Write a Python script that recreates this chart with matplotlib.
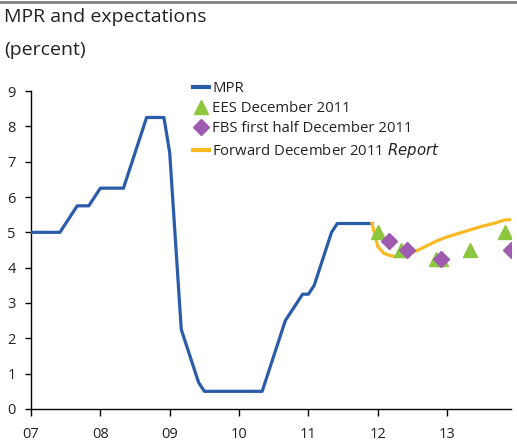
import matplotlib
matplotlib.use("Agg")
import matplotlib.pyplot as plt
from matplotlib.lines import Line2D

plt.rcParams['font.family'] = ['Open Sans', 'DejaVu Sans']

# month index: 0 = Jan 2007
mpr_months = list(range(0, 60))
mpr_values = [5.0, 5.0, 5.0, 5.0, 5.0, 5.0, 5.25, 5.5, 5.75, 5.75, 5.75, 6.0,
              6.25, 6.25, 6.25, 6.25, 6.25, 6.75, 7.25, 7.75, 8.25, 8.25, 8.25, 8.25,
              7.25, 4.75, 2.25, 1.75, 1.25, 0.75, 0.5, 0.5, 0.5, 0.5, 0.5, 0.5,
              0.5, 0.5, 0.5, 0.5, 0.5, 1.0, 1.5, 2.0, 2.5, 2.75, 3.0, 3.25,
              3.25, 3.5, 4.0, 4.5, 5.0, 5.25, 5.25, 5.25, 5.25, 5.25, 5.25, 5.25]

fwd_months = list(range(59, 84))
fwd_values = [5.25, 4.6, 4.41, 4.35, 4.31, 4.32, 4.37, 4.43, 4.5, 4.58, 4.66, 4.74,
              4.81, 4.87, 4.92, 4.97, 5.02, 5.07, 5.12, 5.17, 5.21, 5.25, 5.3, 5.35, 5.36]

ees_months = [60, 64, 70, 71, 76, 82]
ees_values = [5.0, 4.5, 4.25, 4.25, 4.5, 5.0]

fbs_months = [62, 65, 71, 83]
fbs_values = [4.75, 4.5, 4.25, 4.5]

tick_months = [0, 12, 24, 36, 48, 60, 72]
tick_labels = ['07', '08', '09', '10', '11', '12', '13']

title = 'MPR and expectations'
subtitle = '(percent)'

c_mpr = '#2A5CAA'
c_ees = '#8DC63F'
c_fbs = '#9E5BB0'
c_fwd = '#FBB923'

fig = plt.figure(figsize=(5.17, 4.42), dpi=100)
ax = fig.add_axes([31/517, 1 - 409/442, (510.7 - 31)/517, (409 - 91)/442])

ax.plot(mpr_months, mpr_values, color=c_mpr, lw=2.3, solid_joinstyle='round', zorder=3)
ax.plot(fwd_months, fwd_values, color=c_fwd, lw=2.3, solid_joinstyle='round', zorder=3)
ax.plot(ees_months, ees_values, ls='none', marker='^', ms=10, color=c_ees, mec=c_ees, zorder=4)
ax.plot(fbs_months, fbs_values, ls='none', marker='D', ms=8, color=c_fbs, mec=c_fbs, zorder=5)

ax.set_xlim(0, 83)
ax.set_ylim(0, 9)
ax.set_xticks(tick_months)
ax.set_xticklabels(tick_labels)
ax.set_yticks(range(0, 10))
for s in ['top', 'right']:
    ax.spines[s].set_visible(False)
for s in ['left', 'bottom']:
    ax.spines[s].set_linewidth(1.0)
    ax.spines[s].set_color('black')
ax.tick_params(axis='x', direction='out', length=5, width=1, pad=8, labelsize=10.5, colors='black', labelcolor='#222222')
ax.tick_params(axis='y', direction='out', length=4, width=1, pad=7, labelsize=10.5, colors='black', labelcolor='#222222')

handles = [
    Line2D([], [], color=c_mpr, lw=3),
    Line2D([], [], ls='none', marker='^', ms=10, color=c_ees),
    Line2D([], [], ls='none', marker='D', ms=8, color=c_fbs),
    Line2D([], [], color=c_fwd, lw=3),
]
labels = ['MPR', 'EES December 2011', 'FBS first half December 2011',
          'Forward December 2011 $\\it{Report}$']
leg = ax.legend(handles, labels, loc='upper left', bbox_to_anchor=(193/517, 1 - 81/442),
                bbox_transform=fig.transFigure, frameon=False, fontsize=10.7,
                handlelength=1.1, handletextpad=0.2, labelspacing=0.33, borderpad=0,
                borderaxespad=0)
for t in leg.get_texts():
    t.set_color('#222222')

fig.text(4/517, 1 - 17/442, title, fontsize=14, va='center', ha='left', color='#222222')
fig.text(4/517, 1 - 50/442, subtitle, fontsize=14, va='center', ha='left', color='#222222')
fig.add_artist(Line2D([0, 1], [1 - 1.5/442, 1 - 1.5/442], transform=fig.transFigure,
                      color='#7f7f7f', lw=2))

fig.savefig('out.png', dpi=100)
